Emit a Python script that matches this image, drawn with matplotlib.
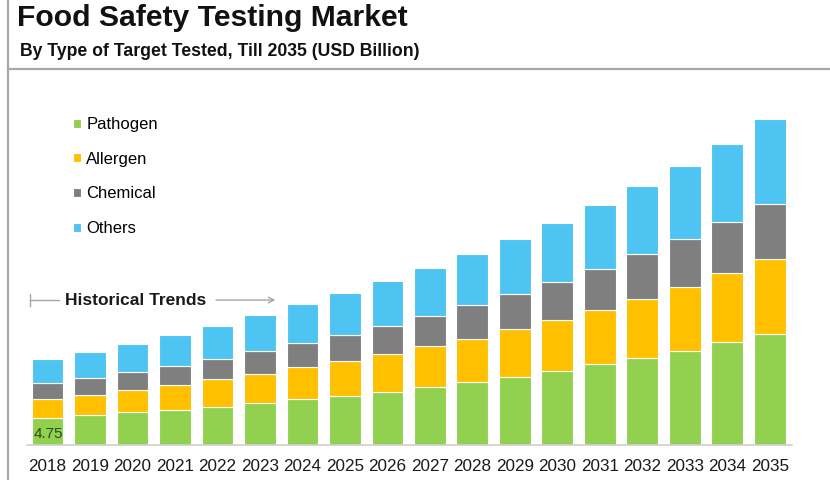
import matplotlib
matplotlib.use("Agg")
import matplotlib.pyplot as plt
import numpy as np
from matplotlib.lines import Line2D

plt.rcParams['font.family'] = ['Liberation Sans', 'DejaVu Sans']

years = [str(y) for y in range(2018, 2036)]
pathogen = [4.75, 5.23, 5.75, 6.16, 6.74, 7.39, 8.04, 8.68, 9.38, 10.21,
            11.09, 12.02, 13.08, 14.26, 15.36, 16.54, 18.07, 19.54]
allergen = [3.34, 3.57, 3.92, 4.40, 4.87, 5.16, 5.75, 6.04, 6.63, 7.22,
            7.57, 8.32, 8.92, 9.56, 10.33, 11.32, 12.14, 13.15]
chemical = [2.82, 3.04, 3.12, 3.40, 3.52, 3.92, 4.17, 4.70, 4.98, 5.23,
            6.04, 6.28, 6.64, 7.16, 7.87, 8.40, 9.03, 9.73]
others = [4.22, 4.45, 5.05, 5.33, 5.81, 6.34, 6.81, 7.34, 7.80, 8.45,
          8.92, 9.63, 10.38, 11.26, 11.97, 12.90, 13.78, 14.91]

series = [("Pathogen", pathogen, "#92d050"),
          ("Allergen", allergen, "#ffc000"),
          ("Chemical", chemical, "#7f7f7f"),
          ("Others", others, "#4dc4f2")]

W, H = 830, 480
fig = plt.figure(figsize=(W / 100, H / 100), dpi=100)
ax = fig.add_axes([27 / W, 35 / H, (792 - 27) / W, 345 / H])

x = np.arange(len(years))
bottom = np.zeros(len(years))
for name, vals, col in series:
    ax.bar(x, vals, 0.75, bottom=bottom, color=col, edgecolor="white",
           linewidth=0.8, label=name)
    bottom += np.array(vals)

ax.set_xlim(-0.482, 17.52)
ax.set_ylim(0, 60.7)
ax.set_xticks(x, years, fontsize=12.3, color="#1a1a1a")
ax.tick_params(axis="x", length=0, pad=10)
ax.set_yticks([])
for s in ["top", "right", "left"]:
    ax.spines[s].set_visible(False)
ax.spines["bottom"].set_color("#d0d0d0")
ax.spines["bottom"].set_linewidth(1.2)

# first value label
ax.text(x[0] - 0.33, pathogen[0] / 2 - 0.5, f"{pathogen[0]:.2f}", fontsize=11,
        color="#2b4a1c", ha="left", va="center")

# historical trends marker
ty = 25.5
ax.plot([-0.41, 0.27], [ty, ty], color="#a6a6a6", lw=1)
ax.plot([-0.41, -0.41], [ty - 1.1, ty + 1.1], color="#a6a6a6", lw=1)
ax.text(2.08, ty, "Historical Trends", fontsize=12.5, fontweight="bold",
        ha="center", va="center", color="#1a1a1a")
ax.annotate("", xy=(5.43, ty), xytext=(3.9, ty),
            arrowprops=dict(arrowstyle="->", color="#a6a6a6", lw=1))

ax.legend(loc="upper left", bbox_to_anchor=(73 / W, 1 - 117 / H),
          bbox_transform=fig.transFigure, frameon=False, fontsize=12,
          handlelength=0.45, handleheight=0.45, handletextpad=0.35,
          labelspacing=1.18, borderpad=0, borderaxespad=0)

# titles and frame
fig.text(17 / W, 1 - 18 / H, "Food Safety Testing Market", fontsize=21.7,
         fontweight="bold", ha="left", va="center", color="#111111")
fig.text(20 / W, 1 - 51 / H, "By Type of Target Tested, Till 2035 (USD Billion)",
         fontsize=12.7, fontweight="bold", ha="left", va="center", color="#111111")
fig.add_artist(Line2D([8 / W, 8 / W], [0, 1], color="#a8a8a8", lw=1.6))
fig.add_artist(Line2D([8 / W, 1], [1 - 69 / H, 1 - 69 / H], color="#a8a8a8", lw=1.6))

fig.savefig("out.png", dpi=100)
